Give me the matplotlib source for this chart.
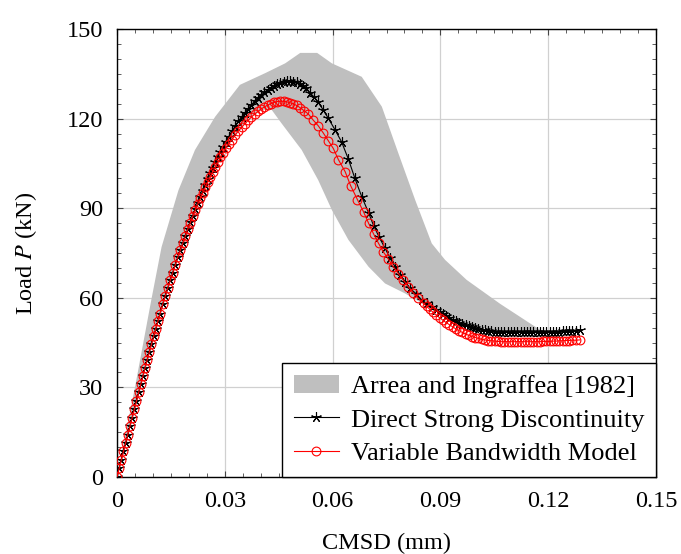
import numpy as np
import matplotlib
matplotlib.use("Agg")
import matplotlib.pyplot as plt
from matplotlib.ticker import MultipleLocator

plt.rcParams['font.family'] = ['Liberation Serif', 'DejaVu Serif']
plt.rcParams['mathtext.fontset'] = 'stix'

# experimental envelope (Arrea and Ingraffea)
band_up_x = [0.0, 0.005, 0.0095, 0.0124, 0.0171, 0.0217, 0.0273, 0.0342, 0.0412, 0.0468,
             0.051, 0.0557, 0.0598, 0.0681, 0.0737, 0.0783, 0.083, 0.0876, 0.0913, 0.0973,
             0.1066, 0.1178, 0.12]
band_up_y = [0.0, 30.0, 59.0, 77.0, 96.0, 109.5, 120.6, 131.3, 135.2, 138.5,
             142.0, 142.0, 138.5, 134.0, 124.0, 108.4, 92.7, 78.2, 72.7, 66.0,
             58.0, 49.2, 48.5]
band_lo_x = [0.0, 0.008, 0.016, 0.025, 0.032, 0.037, 0.0403, 0.043, 0.0458, 0.0514,
             0.056, 0.0598, 0.0644, 0.07, 0.0746, 0.0801, 0.088, 0.095, 0.105, 0.12]
band_lo_y = [0.0, 38.0, 70.0, 98.0, 113.0, 120.0, 122.9, 123.0, 118.4, 109.5,
             99.4, 89.4, 79.4, 70.4, 64.8, 61.5, 56.0, 52.0, 49.0, 48.0]

# Direct Strong Discontinuity
dsd_x = [0.0000, 0.0006, 0.0012, 0.0018, 0.0024, 0.0030, 0.0036, 0.0042, 0.0048, 0.0054,
         0.0060, 0.0066, 0.0072, 0.0078, 0.0084, 0.0090, 0.0096, 0.0102, 0.0108, 0.0114,
         0.0120, 0.0127, 0.0134, 0.0141, 0.0148, 0.0155, 0.0162, 0.0169, 0.0176, 0.0183,
         0.0190, 0.0197, 0.0204, 0.0211, 0.0218, 0.0225, 0.0232, 0.0239, 0.0246, 0.0253,
         0.0260, 0.0267, 0.0274, 0.0281, 0.0288, 0.0295, 0.0302, 0.0311, 0.0320, 0.0329,
         0.0338, 0.0347, 0.0356, 0.0365, 0.0374, 0.0383, 0.0392, 0.0401, 0.0410, 0.0419,
         0.0428, 0.0437, 0.0446, 0.0455, 0.0464, 0.0473, 0.0482, 0.0491, 0.0500, 0.0509,
         0.0518, 0.0527, 0.0537, 0.0548, 0.0559, 0.0574, 0.0588, 0.0607, 0.0625, 0.0644,
         0.0662, 0.0681, 0.0700, 0.0714, 0.0730, 0.0746, 0.0760, 0.0774, 0.0788, 0.0802,
         0.0815, 0.0832, 0.0848, 0.0862, 0.0876, 0.0889, 0.0898, 0.0907, 0.0916, 0.0925,
         0.0934, 0.0943, 0.0952, 0.0961, 0.0970, 0.0979, 0.0988, 0.0997, 0.1006, 0.1015,
         0.1024, 0.1033, 0.1042, 0.1051, 0.1060, 0.1069, 0.1078, 0.1087, 0.1096, 0.1105,
         0.1114, 0.1123, 0.1132, 0.1141, 0.1150, 0.1159, 0.1168, 0.1177, 0.1186, 0.1195,
         0.1204, 0.1213, 0.1222, 0.1231, 0.1240, 0.1249, 0.1258, 0.1267, 0.1276, 0.1288]
dsd_y = [0.0, 2.9, 5.7, 8.6, 11.4, 14.2, 17.1, 19.9, 22.7, 25.5,
         28.3, 31.0, 33.8, 36.5, 39.2, 41.9, 44.5, 47.1, 49.7, 52.2,
         54.7, 57.8, 60.5, 63.2, 65.8, 68.4, 71.0, 73.5, 75.9, 78.3,
         80.7, 83.0, 85.3, 87.5, 89.7, 91.8, 93.9, 95.9, 97.9, 99.8,
         101.7, 103.6, 105.4, 107.2, 108.9, 110.5, 112.2, 114.0, 115.8, 117.5,
         119.2, 120.6, 122.0, 123.3, 124.6, 125.8, 126.9, 127.9, 128.8, 129.6,
         130.4, 131.0, 131.6, 132.0, 132.3, 132.5, 132.5, 132.4, 132.1, 131.6,
         131.0, 130.1, 128.6, 127.3, 125.6, 122.9, 120.1, 116.2, 112.2, 106.4,
         100.0, 93.9, 88.5, 84.2, 80.2, 76.6, 73.2, 70.4, 67.6, 65.4,
         63.2, 61.4, 59.3, 58.1, 57.0, 55.9, 55.2, 54.5, 53.9, 53.3,
         52.7, 52.2, 51.7, 51.2, 50.8, 50.4, 50.1, 49.8, 49.5, 49.3,
         49.1, 48.9, 48.8, 48.7, 48.6, 48.5, 48.5, 48.4, 48.4, 48.4,
         48.4, 48.4, 48.4, 48.4, 48.4, 48.4, 48.4, 48.5, 48.5, 48.5,
         48.6, 48.6, 48.7, 48.7, 48.8, 48.8, 48.9, 48.9, 49.0, 49.1]

# Variable Bandwidth Model
vbm_x = [0.0000, 0.0006, 0.0012, 0.0018, 0.0024, 0.0030, 0.0036, 0.0042, 0.0048, 0.0054,
         0.0060, 0.0066, 0.0072, 0.0078, 0.0084, 0.0090, 0.0096, 0.0102, 0.0108, 0.0114,
         0.0120, 0.0127, 0.0134, 0.0141, 0.0148, 0.0155, 0.0162, 0.0169, 0.0176, 0.0183,
         0.0190, 0.0197, 0.0204, 0.0211, 0.0218, 0.0225, 0.0232, 0.0239, 0.0246, 0.0253,
         0.0260, 0.0267, 0.0274, 0.0281, 0.0288, 0.0295, 0.0302, 0.0311, 0.0320, 0.0329,
         0.0338, 0.0347, 0.0356, 0.0365, 0.0374, 0.0383, 0.0392, 0.0401, 0.0410, 0.0419,
         0.0428, 0.0437, 0.0446, 0.0455, 0.0464, 0.0473, 0.0482, 0.0491, 0.0500, 0.0510,
         0.0520, 0.0532, 0.0546, 0.0560, 0.0574, 0.0588, 0.0602, 0.0616, 0.0635, 0.0650,
         0.0669, 0.0686, 0.0700, 0.0714, 0.0728, 0.0741, 0.0755, 0.0769, 0.0783, 0.0797,
         0.0811, 0.0825, 0.0839, 0.0853, 0.0862, 0.0871, 0.0880, 0.0889, 0.0898, 0.0907,
         0.0916, 0.0925, 0.0934, 0.0943, 0.0952, 0.0961, 0.0970, 0.0979, 0.0988, 0.0997,
         0.1006, 0.1015, 0.1024, 0.1033, 0.1042, 0.1051, 0.1060, 0.1069, 0.1078, 0.1087,
         0.1096, 0.1105, 0.1114, 0.1123, 0.1132, 0.1141, 0.1150, 0.1159, 0.1168, 0.1177,
         0.1186, 0.1195, 0.1204, 0.1213, 0.1222, 0.1231, 0.1240, 0.1249, 0.1258, 0.1267,
         0.1276, 0.1288]
vbm_y = [0.0, 2.9, 5.7, 8.6, 11.4, 14.2, 17.1, 19.9, 22.7, 25.5,
         28.3, 31.0, 33.8, 36.5, 39.2, 41.9, 44.5, 47.1, 49.7, 52.2,
         54.7, 57.8, 60.5, 63.2, 65.8, 68.4, 71.0, 73.5, 75.9, 78.3,
         80.7, 83.0, 85.2, 87.3, 89.4, 91.4, 93.3, 95.2, 97.0, 98.8,
         100.5, 102.2, 103.8, 105.4, 107.0, 108.5, 110.0, 111.6, 113.0, 114.5,
         115.9, 117.1, 118.3, 119.4, 120.5, 121.5, 122.4, 123.2, 123.9, 124.5,
         125.0, 125.4, 125.7, 125.8, 125.8, 125.6, 125.3, 124.9, 124.4, 123.6,
         122.7, 121.6, 119.5, 117.6, 115.2, 112.6, 110.0, 106.3, 102.2, 97.6,
         92.9, 88.8, 85.0, 81.4, 78.2, 75.4, 73.0, 70.4, 68.1, 65.9,
         63.7, 61.6, 59.8, 58.1, 57.1, 56.1, 55.1, 54.2, 53.3, 52.5,
         51.7, 51.0, 50.3, 49.6, 49.0, 48.4, 47.9, 47.4, 47.0, 46.7,
         46.4, 46.1, 45.9, 45.7, 45.6, 45.5, 45.4, 45.3, 45.3, 45.3,
         45.3, 45.3, 45.3, 45.3, 45.3, 45.3, 45.3, 45.3, 45.3, 45.3,
         45.4, 45.4, 45.4, 45.5, 45.5, 45.6, 45.6, 45.7, 45.7, 45.8,
         45.8, 45.9]

xticks = [0, 0.03, 0.06, 0.09, 0.12, 0.15]
xtick_labels = ['0', '0.03', '0.06', '0.09', '0.12', '0.15']
yticks = [0, 30, 60, 90, 120, 150]

fs = 17.5
fs_leg = 19
fig = plt.figure(figsize=(6.81, 5.54), dpi=100)
ax = fig.add_axes([117/681, 1-477/554, (656-117)/681, (477-29)/554])

# envelope polygon: upper edge then lower edge backwards
poly_x = band_up_x + band_lo_x[::-1]
poly_y = band_up_y + band_lo_y[::-1]
ax.fill(poly_x, poly_y, color='#bfbfbf', lw=0, label='Arrea and Ingraffea [1982]', zorder=2)

ax.plot(dsd_x, dsd_y, color='black', lw=0.8, marker=(5, 2, 0), ms=7.5, mew=0.8,
        label='Direct Strong Discontinuity', zorder=3)
ax.plot(vbm_x, vbm_y, color='red', lw=0.8, marker='o', ms=6.3, mfc='none', mew=0.8,
        label='Variable Bandwidth Model', zorder=4)

ax.set_xlim(0, 0.15)
ax.set_ylim(0, 150)
ax.set_xticks(xticks)
ax.set_xticklabels(xtick_labels)
ax.set_yticks(yticks)
ax.xaxis.set_minor_locator(MultipleLocator(0.005))
ax.yaxis.set_minor_locator(MultipleLocator(5))
ax.tick_params(which='both', direction='in', top=True, right=True, labelsize=fs, color='#444444')
ax.tick_params(which='major', length=4.3, width=0.8)
ax.tick_params(which='minor', length=2.8, width=0.6)
ax.tick_params(axis='x', which='major', pad=10)
ax.tick_params(axis='y', which='major', pad=10)
ax.grid(True, which='major', color='#d0d0d0', lw=0.9, zorder=0)
ax.set_axisbelow(True)
for s in ax.spines.values():
    s.set_linewidth(1.0)

ax.set_xlabel('CMSD (mm)', fontsize=fs, labelpad=15)
ax.set_ylabel('Load $P$ (kN)', fontsize=fs, labelpad=20)

leg = ax.legend(loc='lower right', fontsize=fs_leg, borderaxespad=0, fancybox=False,
                framealpha=1, edgecolor='black', handlelength=1.7, handletextpad=0.45,
                borderpad=0.45, labelspacing=0.38)
leg.get_frame().set_linewidth(1.0)

fig.savefig('out.png', dpi=100)
